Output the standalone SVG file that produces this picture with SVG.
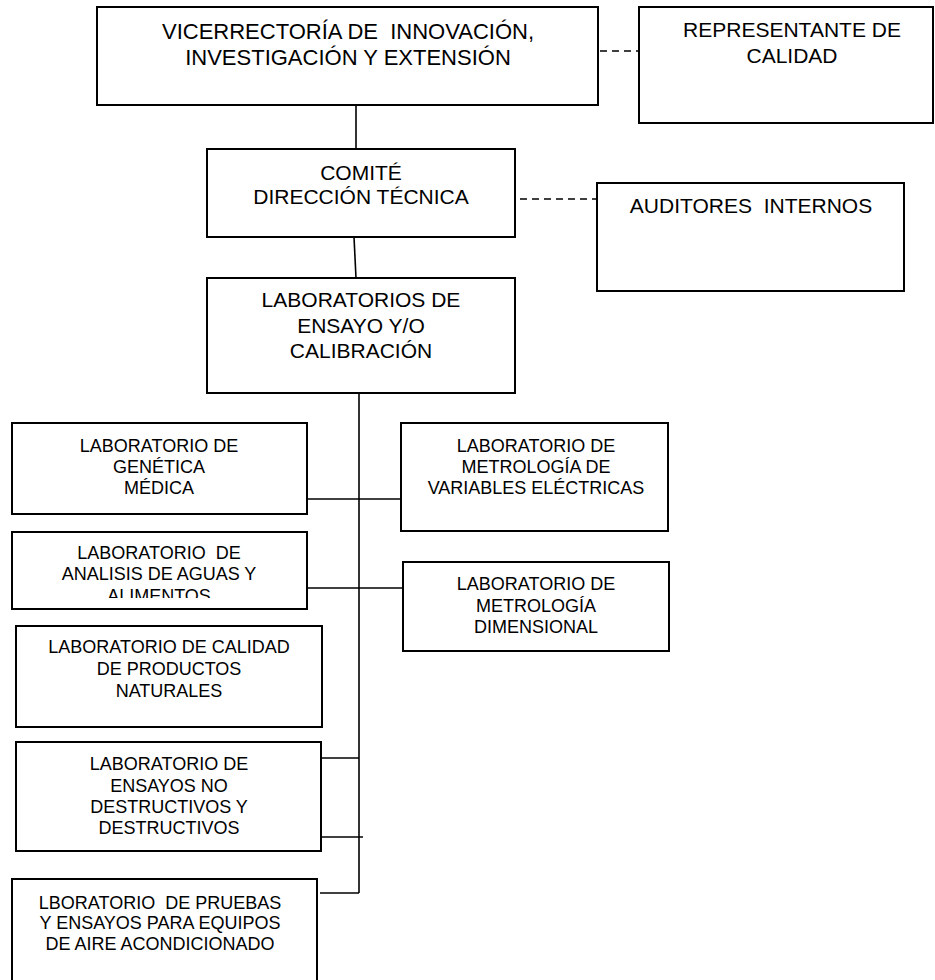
<svg xmlns="http://www.w3.org/2000/svg" width="935" height="980" viewBox="0 0 935 980">
<style>
.box{fill:#fff;stroke:#000;stroke-width:2}
.ln{stroke:#000;stroke-width:1.6;fill:none}
.dash{stroke:#000;stroke-width:1.6;fill:none;stroke-dasharray:7 5}
.t{font-family:"Liberation Sans",Arial,sans-serif;fill:#000;text-anchor:middle;white-space:pre}
.big{font-size:21px}
.top{font-size:22px}
.sm{font-size:18px}
</style>
<defs>
<clipPath id="clipAguas"><rect x="12" y="532" width="295" height="66"/></clipPath>
</defs>
<rect width="935" height="980" fill="#fff"/>
<g id="connectors">
<line class="ln" x1="356" y1="105" x2="356" y2="149"/>
<line class="ln" x1="354" y1="237" x2="356" y2="278"/>
<line class="ln" x1="359" y1="393" x2="359" y2="893"/>
<line class="ln" x1="307" y1="499" x2="401" y2="499"/>
<line class="ln" x1="307" y1="588" x2="403" y2="588"/>
<line class="ln" x1="316" y1="758" x2="359" y2="758"/>
<line class="ln" x1="321" y1="837" x2="363" y2="837"/>
<line class="ln" x1="320" y1="893" x2="359" y2="893"/>
<line class="dash" x1="600" y1="51" x2="639" y2="51"/>
<line class="dash" x1="520" y1="199" x2="597" y2="199"/>
</g>
<g id="vicerrectoria">
<rect class="box" x="97" y="7" width="501" height="98"/>
<text class="t top" x="348" y="39" xml:space="preserve">VICERRECTORÍA DE  INNOVACIÓN,</text>
<text class="t top" x="348" y="65">INVESTIGACIÓN Y EXTENSIÓN</text>
</g>
<g id="representante">
<rect class="box" x="639" y="7" width="294" height="116"/>
<text class="t big" x="792" y="37">REPRESENTANTE DE</text>
<text class="t big" x="792" y="63">CALIDAD</text>
</g>
<g id="comite">
<rect class="box" x="207" y="149" width="308" height="88"/>
<text class="t big" x="361" y="180">COMITÉ</text>
<text class="t big" x="361" y="204">DIRECCIÓN TÉCNICA</text>
</g>
<g id="auditores">
<rect class="box" x="597" y="183" width="307" height="108"/>
<text class="t big" x="751" y="213" xml:space="preserve">AUDITORES  INTERNOS</text>
</g>
<g id="laboratorios">
<rect class="box" x="207" y="278" width="308" height="115"/>
<text class="t big" x="361" y="307">LABORATORIOS DE</text>
<text class="t big" x="361" y="333">ENSAYO Y/O</text>
<text class="t big" x="361" y="358">CALIBRACIÓN</text>
</g>
<g id="genetica">
<rect class="box" x="12" y="423" width="295" height="91"/>
<text class="t sm" x="159" y="452">LABORATORIO DE</text>
<text class="t sm" x="159" y="473">GENÉTICA</text>
<text class="t sm" x="159" y="494">MÉDICA</text>
</g>
<g id="electricas">
<rect class="box" x="401" y="423" width="267" height="108"/>
<text class="t sm" x="536" y="452">LABORATORIO DE</text>
<text class="t sm" x="536" y="473">METROLOGÍA DE</text>
<text class="t sm" x="536" y="494">VARIABLES ELÉCTRICAS</text>
</g>
<g id="aguas">
<rect class="box" x="12" y="532" width="295" height="77"/>
<text class="t sm" x="159" y="559" xml:space="preserve">LABORATORIO  DE</text>
<text class="t sm" x="159" y="580">ANALISIS DE AGUAS Y</text>
<text class="t sm" x="159" y="602" clip-path="url(#clipAguas)">ALIMENTOS</text>
</g>
<g id="dimensional">
<rect class="box" x="403" y="562" width="266" height="89"/>
<text class="t sm" x="536" y="590">LABORATORIO DE</text>
<text class="t sm" x="536" y="612">METROLOGÍA</text>
<text class="t sm" x="536" y="633">DIMENSIONAL</text>
</g>
<g id="productos">
<rect class="box" x="16" y="626" width="306" height="101"/>
<text class="t sm" x="169" y="653">LABORATORIO DE CALIDAD</text>
<text class="t sm" x="169" y="675">DE PRODUCTOS</text>
<text class="t sm" x="169" y="697">NATURALES</text>
</g>
<g id="ensayos">
<rect class="box" x="16" y="742" width="305" height="109"/>
<text class="t sm" x="169" y="770">LABORATORIO DE</text>
<text class="t sm" x="169" y="792">ENSAYOS NO</text>
<text class="t sm" x="169" y="813">DESTRUCTIVOS Y</text>
<text class="t sm" x="169" y="834">DESTRUCTIVOS</text>
</g>
<g id="aire">
<rect class="box" x="12" y="879" width="305" height="120"/>
<text class="t sm" x="160" y="909" xml:space="preserve">LBORATORIO  DE PRUEBAS</text>
<text class="t sm" x="160" y="929">Y ENSAYOS PARA EQUIPOS</text>
<text class="t sm" x="160" y="950">DE AIRE ACONDICIONADO</text>
</g>
</svg>
